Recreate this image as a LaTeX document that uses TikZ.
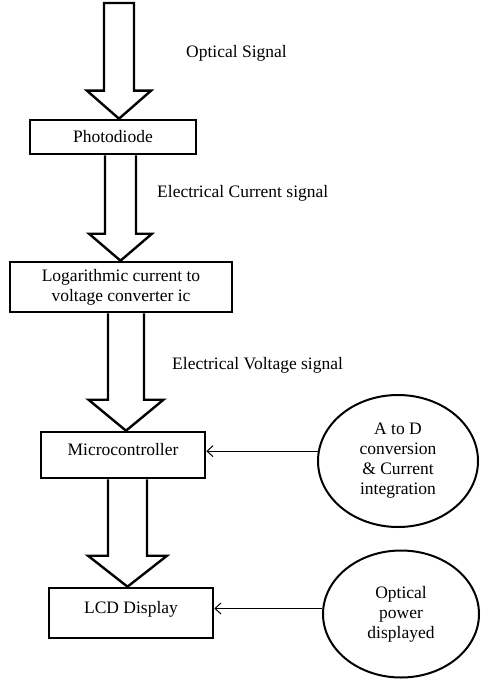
\documentclass[tikz,border=0pt]{standalone}
\usepackage{fontspec}
\setmainfont{Liberation Serif}
\usetikzlibrary{calc,arrows.meta,shapes.geometric}
\newcommand{\blkarrow}[5]{%
  \draw[blk] ($(#1)+(-#3,0)$) -- ($(#2)+(-#3,-#5)$) -- ($(#2)+(-#4,-#5)$) -- (#2)
    -- ($(#2)+(#4,-#5)$) -- ($(#2)+(#3,-#5)$) -- ($(#1)+(#3,0)$);}
\begin{document}
\begin{tikzpicture}[x=1pt,y=-1pt,
  every node/.style={font=\fontsize{17.5}{20}\selectfont},
  box/.style={draw, line width=2.6pt, inner sep=0pt, align=center},
  ell/.style={draw, ellipse, line width=2pt, inner sep=0pt, align=center},
  blk/.style={draw, line width=2.4pt, line join=miter, fill=white},
  conn/.style={-{Straight Barb[length=6pt,width=11pt]}, line width=1pt},
  lbl/.style={anchor=base west, inner sep=0pt}]
\fill[white] (0,0) rectangle (481,679);
\useasboundingbox (0,0) rectangle (481,679);

% boxes
\node[box, minimum width=166, minimum height=34] (pd) at (113,137) {Photodiode};
\node[box, minimum width=222, minimum height=50] (log) at (121,287) {Logarithmic current to\\voltage converter ic};
\node[box, minimum width=164, minimum height=46, text height=0pt, text depth=0pt] (mc) at (123,455) {Microcontroller};
\node[box, minimum width=164, minimum height=50, text height=0pt, text depth=0pt] (lcd) at (131,613) {LCD Display};

% ellipses
\node[ell, minimum width=160, minimum height=132] (adc) at (398,461) {A to D\\conversion\\\& Current\\integration};
\node[ell, minimum width=156, minimum height=127] (opt) at (401,614) {Optical\\power\\displayed};

% labels
\node[lbl] (t1) at (186,58) {Optical Signal};
\node[lbl] (t2) at (157,197) {Electrical Current signal};
\node[lbl] (t3) at (172,369) {Electrical Voltage signal};

% block arrows
\coordinate (a1s) at (119,3);
\coordinate (a1t) at (a1s |- pd.north);
\draw[blk] ($(a1s)+(-15,0)$) -- ($(a1t)+(-15,-28)$) -- ($(a1t)+(-32,-28)$) -- (a1t)
  -- ($(a1t)+(32,-28)$) -- ($(a1t)+(15,-28)$) -- ($(a1s)+(15,0)$) -- cycle;

\coordinate (a2x) at (120.5,0);
\coordinate (a2s) at (a2x |- pd.south);
\coordinate (a2t) at (a2x |- log.north);
\blkarrow{a2s}{a2t}{15.5}{31.5}{27}

\coordinate (a3x) at (126,0);
\coordinate (a3s) at (a3x |- log.south);
\coordinate (a3t) at (a3x |- mc.north);
\blkarrow{a3s}{a3t}{18}{37.5}{31}

\coordinate (a4x) at (127.5,0);
\coordinate (a4s) at (a4x |- mc.south);
\coordinate (a4t) at (a4x |- lcd.north);
\blkarrow{a4s}{a4t}{19.5}{39.5}{31}

% connectors
\draw[conn] (adc.173.5) -- (adc.173.5 -| mc.east);
\draw[conn] (opt.176) -- (opt.176 -| lcd.east);
\end{tikzpicture}
\end{document}
